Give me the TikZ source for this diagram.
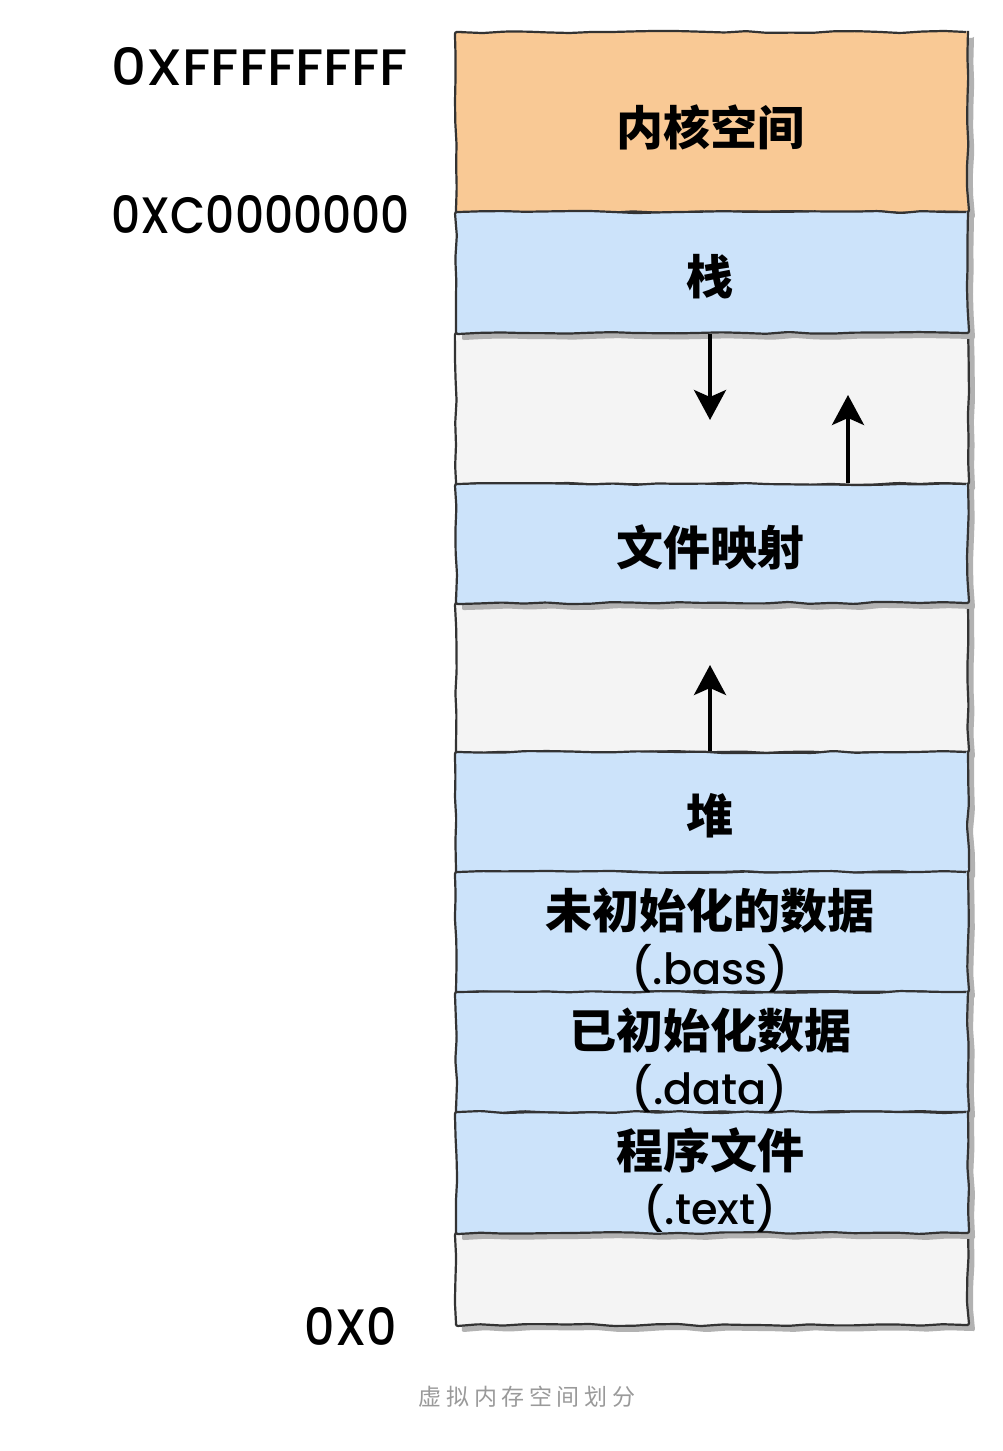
\documentclass[tikz,border=0pt]{standalone}
\usepackage{fontspec}
\setmainfont{Poppins}
\newfontfamily\lat{Poppins Medium}
\newfontfamily\cjk{Noto Sans CJK SC}
\newfontfamily\capfont[LetterSpace=20]{Noto Sans CJK SC}
\usetikzlibrary{decorations.pathmorphing,shadows,arrows.meta}
\definecolor{kern}{HTML}{F9C995}
\definecolor{blu}{HTML}{CCE3FA}
\definecolor{gap}{HTML}{F4F4F4}
\definecolor{edge}{HTML}{333333}
\definecolor{capgray}{HTML}{9A9A9A}
\tikzset{
  seg/.style={rectangle, draw=edge, line width=2.2pt, minimum width=512pt,
    inner sep=0pt,
    decorate, decoration={random steps, segment length=22pt, amplitude=1.1pt},
    rounded corners=2pt,
    drop shadow={shadow xshift=6pt, shadow yshift=-6pt, fill=black!30, opacity=1}},
  segtext/.style={inner sep=0pt, align=center, font=\fontsize{47}{58}\selectfont},
  arr/.style={line width=3.6pt, draw=black, -{Stealth[length=30pt,width=32pt,inset=7pt]}},
  addr/.style={anchor=east, inner sep=0pt}
}
\begin{document}
\begin{tikzpicture}[x=1pt,y=-1pt]
\useasboundingbox[fill=white] (0,0) rectangle (1003,1451);
% empty gaps first
\node[seg, fill=gap, minimum height=151pt] (g1) at (712,408.5) {};
\node[seg, fill=gap, minimum height=149pt] (g2) at (712,677.5) {};
\node[seg, fill=gap, minimum height=92pt] (g3) at (712,1279) {};
% coloured segments
\node[seg, fill=kern, minimum height=180pt] (kernel) at (712,122) {};
\node[seg, fill=blu, minimum height=121pt] (stack) at (712,272.5) {};
\node[seg, fill=blu, minimum height=119pt] (mmap) at (712,543.5) {};
\node[seg, fill=blu, minimum height=120pt] (heap) at (712,812) {};
\node[seg, fill=blu, minimum height=120pt] (bss) at (712,932) {};
\node[seg, fill=blu, minimum height=120pt] (data) at (712,1052) {};
\node[seg, fill=blu, minimum height=121pt] (text) at (712,1172.5) {};
% segment labels
\node[segtext] (tkernel) at (710,127) {{\cjk\bfseries 内核空间}};
\node[segtext] (tstack) at (710,277) {{\cjk\bfseries 栈}};
\node[segtext] (tmmap) at (710,547) {{\cjk\bfseries 文件映射}};
\node[segtext] (theap) at (710,816) {{\cjk\bfseries 堆}};
\node[segtext] (tbss) at (710,940) {{\cjk\bfseries 未初始化的数据}\\[-2pt]{\lat\fontsize{43}{50}\selectfont (.bass)}};
\node[segtext] (tdata) at (710,1060) {{\cjk\bfseries 已初始化数据}\\[-2pt]{\lat\fontsize{43}{50}\selectfont (.data)}};
\node[segtext] (ttext) at (710,1180) {{\cjk\bfseries 程序文件}\\[-2pt]{\lat\fontsize{43}{50}\selectfont (.text)}};
% growth arrows
\coordinate (d1) at (710,420);
\coordinate (u1) at (848,395);
\coordinate (u2) at (710,665);
\draw[arr] (stack.south -| d1) -- (d1);
\draw[arr] (mmap.north -| u1) -- (u1);
\draw[arr] (heap.north -| u2) -- (u2);
% address labels
\node[addr] (aF) at (408,66) {\resizebox{296pt}{38pt}{\lat 0XFFFFFFFF}};
\node[addr] (aC) at (410,215) {\resizebox{298pt}{38pt}{\lat 0XC0000000}};
\node[addr] (a0) at (397,1326) {\resizebox{92pt}{38pt}{\lat 0X0}};
% caption
\node[font=\capfont\fontsize{23}{23}\selectfont, text=capgray] (cap) at (527,1397) {虚拟内存空间划分};
\end{tikzpicture}
\end{document}
